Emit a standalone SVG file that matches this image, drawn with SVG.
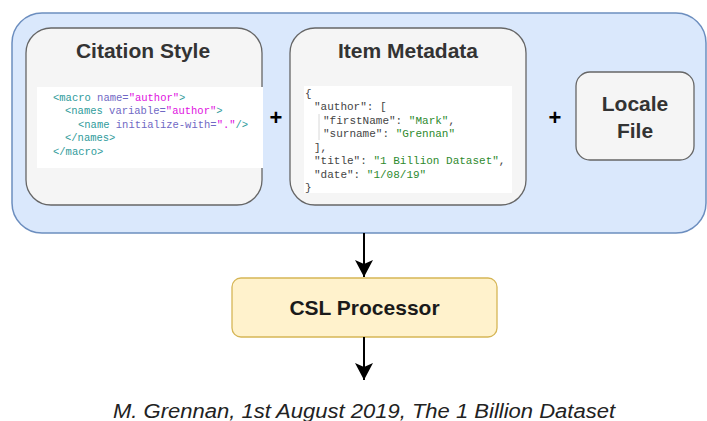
<svg xmlns="http://www.w3.org/2000/svg" width="707" height="421" viewBox="0 0 707 421">
  <style>
    .card { fill: #f5f5f5; stroke: #666666; stroke-width: 1.3; }
    .title { font-family: "Liberation Sans", Arial, sans-serif; font-weight: bold; font-size: 21px; fill: #333333; text-anchor: middle; }
    .plus { font-family: "Liberation Sans", Arial, sans-serif; font-weight: bold; font-size: 22px; fill: #000000; text-anchor: middle; }
    .code { font-family: "Liberation Mono", "DejaVu Sans Mono", monospace; font-size: 10.5px; }
    .json { font-family: "Liberation Mono", "DejaVu Sans Mono", monospace; font-size: 11px; fill: #444444; }
    .tag { fill: #2f9b9b; }
    .attr { fill: #7068c4; }
    .val { fill: #e010e0; }
    .str { fill: #2e8a2e; }
    .edge { stroke: #000000; stroke-width: 2; fill: none; }
  </style>
  <defs>
    <marker id="head" markerUnits="userSpaceOnUse" markerWidth="20" markerHeight="20" refX="17" refY="9" orient="auto">
      <path d="M0,0 L17,9 L0,18 L4,9 Z" fill="#000000"/>
    </marker>
  </defs>

  <!-- input container -->
  <g id="inputs">
    <rect x="12" y="13" width="694" height="220" rx="30" ry="30" fill="#dae8fc" stroke="#6c8ebf" stroke-width="1.5"/>
  </g>

  <!-- citation style card with CSL snippet -->
  <g id="citation-style">
    <rect class="card" x="26" y="28" width="236" height="177" rx="25" ry="25"/>
    <text class="title" x="143" y="58">Citation Style</text>
    <rect x="37" y="87" width="226" height="81" fill="#ffffff"/>
    <text class="code" x="53" y="100.5"><tspan class="tag">&lt;macro </tspan><tspan class="attr">name=</tspan><tspan class="val">"author"</tspan><tspan class="tag">&gt;</tspan></text>
    <text class="code" x="65" y="114"><tspan class="tag">&lt;names </tspan><tspan class="attr">variable=</tspan><tspan class="val">"author"</tspan><tspan class="tag">&gt;</tspan></text>
    <text class="code" x="78" y="127.5"><tspan class="tag">&lt;name </tspan><tspan class="attr">initialize-with=</tspan><tspan class="val">"."</tspan><tspan class="tag">/&gt;</tspan></text>
    <text class="code" x="65" y="141"><tspan class="tag">&lt;/names&gt;</tspan></text>
    <text class="code" x="53" y="154.5"><tspan class="tag">&lt;/macro&gt;</tspan></text>
  </g>

  <!-- item metadata card with JSON snippet -->
  <g id="item-metadata">
    <rect class="card" x="290" y="28" width="236" height="177" rx="25" ry="25"/>
    <text class="title" x="408" y="58">Item Metadata</text>
    <rect x="304" y="86" width="208" height="107" fill="#ffffff"/>
    <line x1="319" y1="114" x2="319" y2="140" stroke="#d8d8d8" stroke-width="1"/>
    <text class="json" x="305" y="96.5">{</text>
    <text class="json" x="314" y="110">"author": [</text>
    <text class="json" x="323" y="123.5">"firstName": <tspan class="str">"Mark"</tspan>,</text>
    <text class="json" x="323" y="137">"surname": <tspan class="str">"Grennan"</tspan></text>
    <text class="json" x="314" y="150.5">],</text>
    <text class="json" x="314" y="164">"title": <tspan class="str">"1 Billion Dataset"</tspan>,</text>
    <text class="json" x="314" y="177.5">"date": <tspan class="str">"1/08/19"</tspan></text>
    <text class="json" x="305" y="191">}</text>
  </g>

  <!-- locale file card -->
  <g id="locale-file">
    <rect class="card" x="576" y="72" width="118" height="88" rx="14" ry="14"/>
    <text class="title" x="635" y="111">Locale</text>
    <text class="title" x="635" y="138">File</text>
  </g>

  <g id="plus-signs">
    <text class="plus" x="276" y="125">+</text>
    <text class="plus" x="555" y="125">+</text>
  </g>

  <!-- processor -->
  <g id="csl-processor">
    <rect x="232" y="278" width="265" height="59" rx="9" ry="9" fill="#fff2cc" stroke="#d6b656" stroke-width="1.3"/>
    <text class="title" x="364.5" y="315" style="fill:#1a1a1a">CSL Processor</text>
  </g>

  <!-- output citation -->
  <g id="citation-output">
    <text x="364" y="418" font-family="'Liberation Sans', Arial, sans-serif" font-style="italic" font-size="20" fill="#222222" text-anchor="middle" textLength="502" lengthAdjust="spacingAndGlyphs">M. Grennan, 1st August 2019, The 1 Billion Dataset</text>
  </g>

  <g id="connectors">
    <line class="edge" x1="364" y1="233" x2="364" y2="277" marker-end="url(#head)"/>
    <line class="edge" x1="364" y1="337" x2="364" y2="380" marker-end="url(#head)"/>
  </g>
</svg>
